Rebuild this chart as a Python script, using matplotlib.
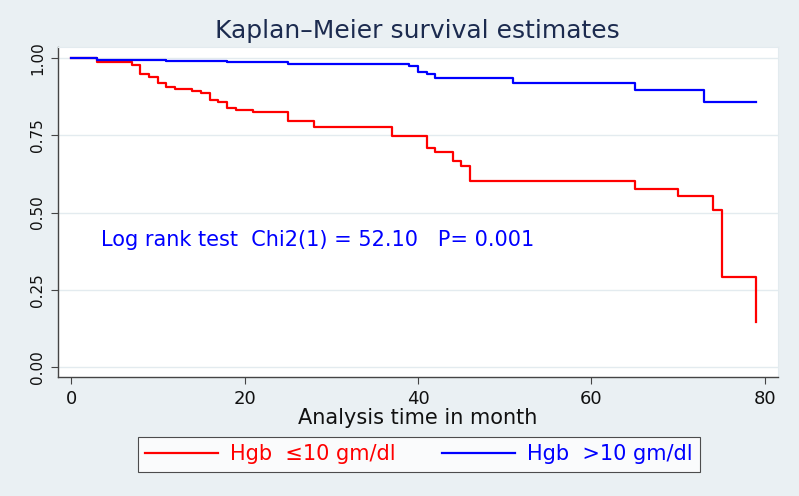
import matplotlib
matplotlib.use("Agg")
import matplotlib.pyplot as plt
from matplotlib.lines import Line2D

# Data
red_times = [0, 3, 7, 8, 9, 10, 11, 12, 14, 15, 16, 17, 18, 19, 21, 25, 28, 37, 41, 42, 44, 45, 46, 65, 70, 74, 75, 79]
red_surv = [1.0, 0.988, 0.977, 0.949, 0.938, 0.919, 0.906, 0.900, 0.893, 0.888, 0.863, 0.857, 0.840, 0.832, 0.825,
            0.797, 0.778, 0.749, 0.710, 0.697, 0.667, 0.651, 0.603, 0.578, 0.554, 0.510, 0.291, 0.147]
blue_times = [0, 3, 11, 18, 25, 39, 40, 41, 42, 51, 65, 73, 79]
blue_surv = [1.0, 0.995, 0.991, 0.986, 0.981, 0.974, 0.956, 0.948, 0.937, 0.918, 0.896, 0.857, 0.857]

x_ticks = [0, 20, 40, 60, 80]
y_ticks = [0.0, 0.25, 0.5, 0.75, 1.0]
y_tick_labels = ["0.00", "0.25", "0.50", "0.75", "1.00"]

labels = ["Hgb  \u226410 gm/dl", "Hgb  >10 gm/dl"]
title = "Kaplan\u2013Meier survival estimates"
xlabel = "Analysis time in month"
annotation = "Log rank test  Chi2(1) = 52.10   P= 0.001"

BG = "#eaf0f3"
FONT = ["DejaVu Sans"]

W, H = 799, 496
fig = plt.figure(figsize=(W / 100, H / 100), dpi=100, facecolor=BG)
ax = fig.add_axes([58 / W, 1 - 377 / H, (778 - 58) / W, (377 - 47) / H])
ax.set_facecolor("white")

ax.step(red_times, red_surv, where="post", color="#ff0000", lw=1.6, zorder=3)
ax.step(blue_times, blue_surv, where="post", color="#0000ff", lw=1.6, zorder=4)

ax.set_xlim(-1.5, 81.5)
ax.set_ylim(-0.032, 1.036)
ax.set_xticks(x_ticks)
ax.set_xticklabels([str(t) for t in x_ticks], family=FONT, fontsize=13, color="#111111")
ax.set_yticks(y_ticks)
ax.set_yticklabels(y_tick_labels, family=FONT, fontsize=11, color="#111111", rotation=90, va="center")
ax.tick_params(axis="both", direction="out", length=5, width=0.8, color="#444444", pad=4)
ax.grid(axis="y", color="#e3ebef", lw=1.0)
ax.set_axisbelow(True)
for s in ["left", "bottom"]:
    ax.spines[s].set_color("#444444")
    ax.spines[s].set_linewidth(1.0)
for s in ["top", "right"]:
    ax.spines[s].set_color("#e3ebef")

ax.set_xlabel(xlabel, family=FONT, fontsize=15, color="#111111", labelpad=0)
fig.text(417.5 / W, 1 - 31 / H, title, ha="center", va="center", family=FONT, fontsize=18, color="#1c2b4f")
ax.text(3.4, 0.41, annotation, ha="left", va="center", family=FONT, fontsize=15, color="#0000ff")

handles = [Line2D([], [], color="#ff0000", lw=1.6), Line2D([], [], color="#0000ff", lw=1.6)]
leg = fig.legend(handles, labels, loc="center", bbox_to_anchor=(419 / W, 1 - 454.5 / H), ncol=2,
                 frameon=True, fancybox=False, edgecolor="#222222", facecolor="white",
                 prop={"family": FONT, "size": 15}, handlelength=3.5, columnspacing=2.2,
                 borderpad=0.35, handletextpad=0.6)
leg.get_frame().set_linewidth(0.8)
for txt, c in zip(leg.get_texts(), ["#ff0000", "#0000ff"]):
    txt.set_color(c)

fig.savefig("out.png", dpi=100, facecolor=BG)
